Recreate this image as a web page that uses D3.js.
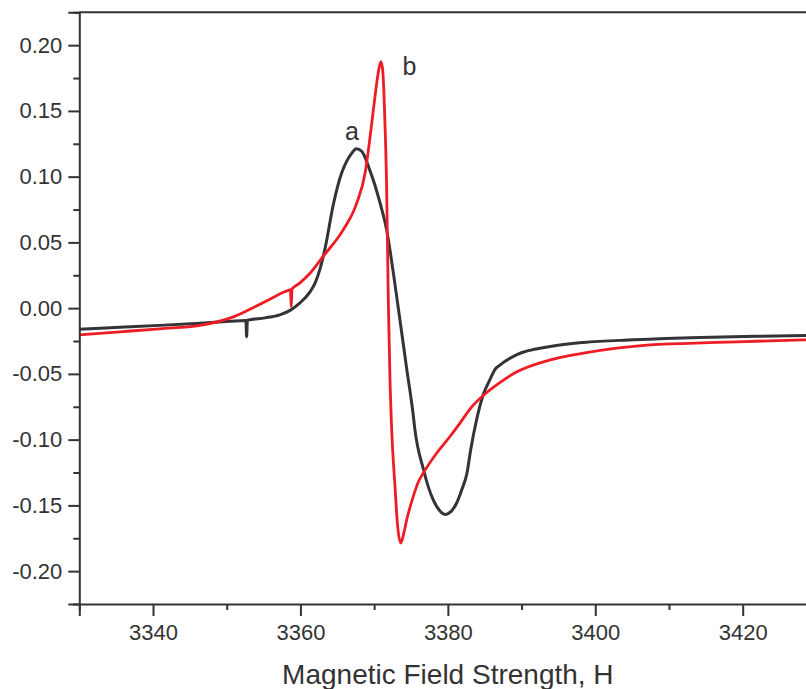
<!DOCTYPE html>
<html>
<head>
<meta charset="utf-8">
<script src="https://cdn.jsdelivr.net/npm/d3@7"></script>
<style>
  html, body { margin: 0; padding: 0; background: #fff; overflow: hidden; }
  text { font-family: "Liberation Sans", Arial, Helvetica, sans-serif; }
</style>
</head>
<body>
<svg id="chart" width="806" height="689"></svg>
<script>
// ---- data ----
const fieldA = [3330, 3335.5, 3340.9, 3346.4, 3350.4, 3352.6, 3352.7, 3352.8, 3355.2, 3357.2, 3358.6, 3359.9, 3361.3, 3362.0, 3362.7, 3363.3, 3364.5, 3365.6, 3366.3, 3366.9, 3367.6, 3368.3, 3369.4, 3370.1, 3370.8, 3371.7, 3372.6, 3373.5, 3374.4, 3375.3, 3375.5, 3376.7, 3378.0, 3378.9, 3379.7, 3380.4, 3381.2, 3381.9, 3382.6, 3383.1, 3383.9, 3384.8, 3385.7, 3386.4, 3387.1, 3389.3, 3393.9, 3398.4, 3405.2, 3414.2, 3422.3, 3430];
const signalA = [-0.0161, -0.0146, -0.0131, -0.0114, -0.0100, -0.0093, -0.0217, -0.0092, -0.0074, -0.0051, -0.0017, 0.0038, 0.0124, 0.0192, 0.0306, 0.0443, 0.0798, 0.1029, 0.1120, 0.1173, 0.1212, 0.1195, 0.1051, 0.0937, 0.0800, 0.0595, 0.0270, -0.0089, -0.0454, -0.0811, -0.0910, -0.1229, -0.1457, -0.1540, -0.1569, -0.1548, -0.1482, -0.1380, -0.1254, -0.1077, -0.0849, -0.0659, -0.0545, -0.0465, -0.0431, -0.0355, -0.0292, -0.0261, -0.0241, -0.0223, -0.0214, -0.0207];

const fieldB = [3330, 3335.5, 3340.9, 3346.4, 3350.9, 3355.4, 3358.45, 3358.65, 3358.75, 3358.86, 3359.9, 3361.3, 3363.1, 3365.8, 3367.6, 3368.8, 3369.4, 3370.05, 3370.5, 3370.9, 3371.13, 3371.34, 3371.54, 3371.68, 3371.92, 3372.15, 3372.38, 3372.83, 3373.17, 3373.6, 3373.98, 3374.42, 3375.31, 3375.95, 3376.67, 3378.49, 3380.29, 3381.65, 3383.0, 3385.2, 3387.1, 3389.3, 3393.9, 3398.4, 3402.9, 3407.4, 3416.5, 3428.2, 3430];
const signalB = [-0.0203, -0.0180, -0.0157, -0.0131, -0.0066, 0.0055, 0.0137, 0.0140, 0.0010, 0.0145, 0.0190, 0.0265, 0.0395, 0.0595, 0.0793, 0.1036, 0.1280, 0.1580, 0.1770, 0.1874, 0.1826, 0.1620, 0.1280, 0.0975, 0.0063, -0.0545, -0.0925, -0.1356, -0.1647, -0.1786, -0.1723, -0.1609, -0.1432, -0.1328, -0.1254, -0.1102, -0.0976, -0.0874, -0.0767, -0.0645, -0.0564, -0.0486, -0.0393, -0.0342, -0.0304, -0.0279, -0.0261, -0.0241, -0.0239];

const seriesNames = ["a", "b"];
const xMajorTicks = [3340, 3360, 3380, 3400, 3420];
const xMinorTicks = [3330, 3350, 3370, 3390, 3410, 3430];
const yMajorTicks = [-0.20, -0.15, -0.10, -0.05, 0.00, 0.05, 0.10, 0.15, 0.20];
const yTickLabels = ["-0.20", "-0.15", "-0.10", "-0.05", "0.00", "0.05", "0.10", "0.15", "0.20"];
const yMinorTicks = [-0.225, -0.175, -0.125, -0.075, -0.025, 0.025, 0.075, 0.125, 0.175, 0.225];
const xTitle = "Magnetic Field Strength, H";

// ---- drawing ----
const svg = d3.select("#chart");
const axisColor = "#333333";
const colors = ["#333338", "#ee1c25"];

const x = d3.scaleLinear().domain([3330, 3430]).range([79.3, 816.4]);
const y = d3.scaleLinear().domain([-0.225, 0.225]).range([604, 12.3]);

const plot = svg.append("g");
const lineGen = d3.line().x(d => x(d[0])).y(d => y(d[1])).curve(d3.curveMonotoneX);

const dataA = fieldA.map((f, i) => [f, signalA[i]]);
const dataB = fieldB.map((f, i) => [f, signalB[i]]);

plot.append("path").datum(dataA)
  .attr("d", lineGen).attr("fill", "none")
  .attr("stroke", colors[0]).attr("stroke-width", 3).attr("stroke-linejoin", "round");
plot.append("path").datum(dataB)
  .attr("d", lineGen).attr("fill", "none")
  .attr("stroke", colors[1]).attr("stroke-width", 2.8).attr("stroke-linejoin", "round");

// top border
svg.append("line")
  .attr("x1", x(3330)).attr("x2", x(3430))
  .attr("y1", y(0.225)).attr("y2", y(0.225))
  .attr("stroke", axisColor).attr("stroke-width", 2);

// y axis
svg.append("g").attr("transform", `translate(${x(3330)},0)`)
  .call(d3.axisLeft(y).tickValues(yMajorTicks).tickSize(11).tickPadding(6)
    .tickFormat((d, i) => yTickLabels[i]));
svg.append("g").attr("transform", `translate(${x(3330)},0)`)
  .call(d3.axisLeft(y).tickValues(yMinorTicks).tickSize(6).tickFormat(""))
  .call(g => g.select(".domain").remove());

// x axis
svg.append("g").attr("transform", `translate(0,${y(-0.225)})`)
  .call(d3.axisBottom(x).tickValues(xMajorTicks).tickSize(12).tickPadding(8)
    .tickFormat(d3.format("d")));
svg.append("g").attr("transform", `translate(0,${y(-0.225)})`)
  .call(d3.axisBottom(x).tickValues(xMinorTicks).tickSize(6).tickFormat(""))
  .call(g => g.select(".domain").remove());

svg.selectAll(".domain").attr("stroke", axisColor).attr("stroke-width", 2);
svg.selectAll(".tick line").attr("stroke", axisColor).attr("stroke-width", 2);
svg.selectAll(".tick text").attr("fill", axisColor)
  .style("font-family", "'Liberation Sans', Arial, sans-serif").style("font-size", "22px");

// axis title
svg.append("text")
  .attr("x", (x(3330) + x(3430)) / 2).attr("y", 684)
  .attr("text-anchor", "middle").attr("fill", axisColor)
  .style("font-size", "28px").text(xTitle);

// series labels
svg.append("text").attr("x", x(3367.0)).attr("y", y(0.128))
  .attr("text-anchor", "middle").attr("fill", axisColor).style("font-size", "25px").text(seriesNames[0]);
svg.append("text").attr("x", x(3374.8)).attr("y", y(0.177))
  .attr("text-anchor", "middle").attr("fill", axisColor).style("font-size", "25px").text(seriesNames[1]);
</script>
</body>
</html>
